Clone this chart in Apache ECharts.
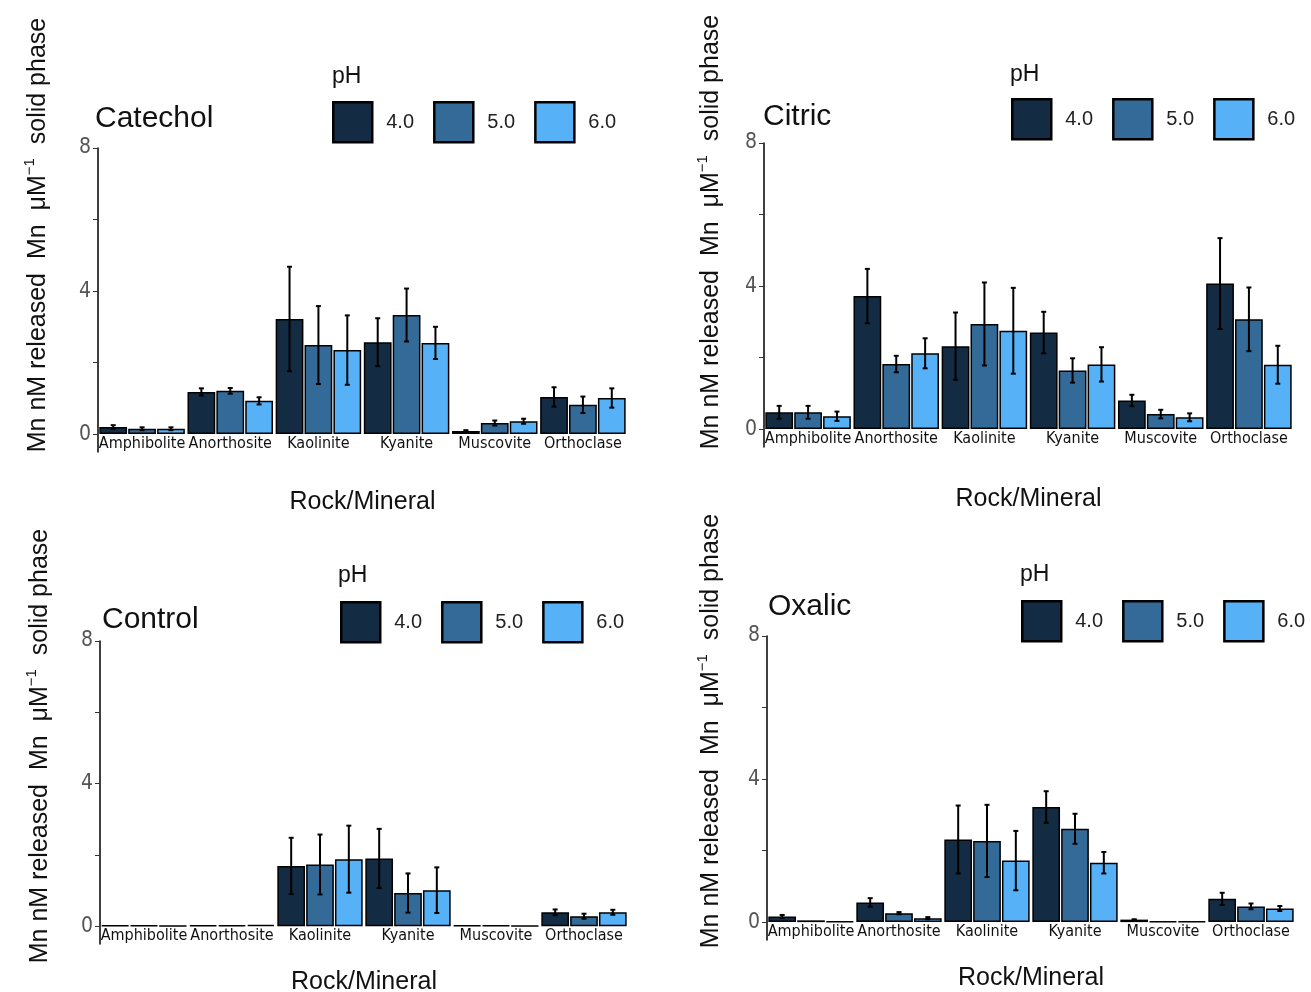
<!DOCTYPE html>
<html><head><meta charset="utf-8">
<script src="https://cdn.jsdelivr.net/npm/echarts@6/dist/echarts.min.js"></script>
<style>html,body{margin:0;padding:0;background:#fff}#c{width:1311px;height:992px}</style>
</head><body><div id="c"></div>
<script>
// ---------- data ----------
const categories = ['Amphibolite', 'Anorthosite', 'Kaolinite', 'Kyanite', 'Muscovite', 'Orthoclase'];
const phLevels = ['4.0', '5.0', '6.0'];
const yTickValues = [0, 2, 4, 6, 8];
const yLabelValues = [0, 4, 8];

const catechol4 = [0.20, 1.18, 3.22, 2.57, 0.09, 1.04];
const catechol5 = [0.15, 1.21, 2.49, 3.33, 0.31, 0.82];
const catechol6 = [0.15, 0.93, 2.35, 2.55, 0.36, 1.01];
const catechol4Err = [0.05, 0.10, 1.46, 0.67, 0.02, 0.27];
const catechol5Err = [0.04, 0.08, 1.09, 0.74, 0.07, 0.23];
const catechol6Err = [0.04, 0.10, 0.97, 0.45, 0.07, 0.27];

const citric4 = [0.47, 3.72, 2.32, 2.70, 0.80, 4.07];
const citric5 = [0.47, 1.82, 2.94, 1.64, 0.42, 3.07];
const citric6 = [0.36, 2.12, 2.75, 1.81, 0.33, 1.80];
const citric4Err = [0.18, 0.76, 0.94, 0.58, 0.16, 1.27];
const citric5Err = [0.18, 0.23, 1.16, 0.34, 0.12, 0.89];
const citric6Err = [0.13, 0.42, 1.20, 0.48, 0.11, 0.53];

const control4 = [0.02, 0.03, 1.69, 1.90, 0.02, 0.39];
const control5 = [0.02, 0.03, 1.73, 0.93, 0.02, 0.28];
const control6 = [0.01, 0.04, 1.88, 1.01, 0.01, 0.39];
const control4Err = [0, 0, 0.79, 0.83, 0, 0.08];
const control5Err = [0, 0, 0.84, 0.55, 0, 0.07];
const control6Err = [0, 0, 0.94, 0.64, 0, 0.07];

const oxalic4 = [0.16, 0.55, 2.31, 3.22, 0.07, 0.65];
const oxalic5 = [0.05, 0.25, 2.27, 2.61, 0.02, 0.44];
const oxalic6 = [0.02, 0.11, 1.72, 1.66, 0.02, 0.38];
const oxalic4Err = [0.04, 0.12, 0.95, 0.44, 0.01, 0.17];
const oxalic5Err = [0, 0.03, 1.01, 0.42, 0, 0.08];
const oxalic6Err = [0, 0.03, 0.83, 0.30, 0, 0.07];

// ---------- styling / layout ----------
const colors = ['#132B43', '#336A98', '#56B1F7'];
const FONT = "'Liberation Sans', Arial, sans-serif";
const NARROW = "'Liberation Sans Narrow', 'Arial Narrow', 'DejaVu Sans Condensed', sans-serif";
const CAT_GAP = 0.03, BAR_GAP = 0.04;

const panels = [
  { title: 'Catechol', vals: [catechol4, catechol5, catechol6], errs: [catechol4Err, catechol5Err, catechol6Err],
    g: [98, 148, 529, 304], t: [95, 104], ph: [332, 65], leg: [332, 101], yt: [38, 235], gap: 38 },
  { title: 'Citric', vals: [citric4, citric5, citric6], errs: [citric4Err, citric5Err, citric6Err],
    g: [764, 143, 529, 304], t: [763, 102], ph: [1010, 63], leg: [1011, 98], yt: [711, 232], gap: 40 },
  { title: 'Control', vals: [control4, control5, control6], errs: [control4Err, control5Err, control6Err],
    g: [100, 641, 528, 303], t: [102, 605], ph: [338, 564], leg: [340, 601], yt: [40, 746], gap: 26 },
  { title: 'Oxalic', vals: [oxalic4, oxalic5, oxalic6], errs: [oxalic4Err, oxalic5Err, oxalic6Err],
    g: [767, 636, 528, 304], t: [768, 592], ph: [1020, 563], leg: [1021, 600], yt: [711, 731], gap: 26 }
];

const option = { animation: false, backgroundColor: '#fff',
  title: [], legend: [], grid: [], xAxis: [], yAxis: [], series: [], graphic: [] };

panels.forEach((p, gi) => {
  option.grid.push({ left: p.g[0], top: p.g[1], width: p.g[2], height: p.g[3],
    containLabel: false, outerBoundsMode: 'none' });
  option.xAxis.push({
    type: 'category', gridIndex: gi, data: categories,
    axisLine: { show: false, onZero: false },
    axisTick: { show: false },
    axisLabel: { interval: 0, fontSize: 16, color: '#111', fontFamily: NARROW, margin: -16 },
    name: 'Rock/Mineral', nameLocation: 'middle', nameGap: p.gap,
    nameTextStyle: { fontSize: 25, color: '#111', fontFamily: FONT }
  });
  option.yAxis.push({
    type: 'value', gridIndex: gi, min: -0.5, max: 8,
    axisLine: { show: true, lineStyle: { color: '#000', width: 1.5 } },
    axisTick: { show: true, length: 5, customValues: yTickValues, lineStyle: { color: '#333', width: 1 } },
    axisLabel: { customValues: yLabelValues, fontSize: 21, color: '#555', fontFamily: NARROW, margin: 7 },
    splitLine: { show: false }
  });
  option.title.push({ text: p.title, left: p.t[0], top: p.t[1], padding: 0,
    textStyle: { fontSize: 30, fontWeight: 'normal', color: '#111', fontFamily: FONT } });
  option.title.push({ text: 'pH', left: p.ph[0], top: p.ph[1], padding: 0,
    textStyle: { fontSize: 23, fontWeight: 'normal', color: '#111', fontFamily: FONT } });
  option.legend.push({
    data: phLevels, left: p.leg[0], top: p.leg[1], padding: 0, orient: 'horizontal',
    itemWidth: 39, itemHeight: 40, itemGap: 19, icon: 'rect', selectedMode: false,
    itemStyle: { borderColor: '#000', borderWidth: 2.5 },
    textStyle: { fontSize: 20, color: '#222', fontFamily: FONT, padding: [0, 0, 0, 9] }
  });
  for (let s = 0; s < 3; s++) {
    option.series.push({
      type: 'bar', name: phLevels[s], xAxisIndex: gi, yAxisIndex: gi, data: p.vals[s],
      barGap: (BAR_GAP * 100) + '%', barCategoryGap: (CAT_GAP * 100) + '%',
      itemStyle: { color: colors[s], borderColor: '#000', borderWidth: 1.5 },
      emphasis: { disabled: true }
    });
  }
  const errData = [];
  for (let s = 0; s < 3; s++)
    for (let i = 0; i < categories.length; i++)
      if (p.errs[s][i] > 0) errData.push([i, p.vals[s][i], p.errs[s][i], s]);
  option.series.push({
    type: 'custom', xAxisIndex: gi, yAxisIndex: gi, z: 10, silent: true,
    encode: { x: 0, y: 1 }, data: errData,
    renderItem: function (params, api) {
      const ci = api.value(0), v = api.value(1), e = api.value(2), s = api.value(3);
      const band = api.size([1, 0])[0];
      const remained = band * (1 - CAT_GAP);
      const bw = remained / (3 + 2 * BAR_GAP);
      const total = 3 * bw + 2 * bw * BAR_GAP;
      const c = api.coord([ci, v]);
      const x = c[0] - total / 2 + s * bw * (1 + BAR_GAP) + bw / 2;
      const yTop = api.coord([ci, v + e])[1];
      const yBot = api.coord([ci, v - e])[1];
      const cap = 2.5, st = { stroke: '#000', lineWidth: 2 };
      return { type: 'group', children: [
        { type: 'line', shape: { x1: x, y1: yTop, x2: x, y2: yBot }, style: st },
        { type: 'line', shape: { x1: x - cap, y1: yTop, x2: x + cap, y2: yTop }, style: st },
        { type: 'line', shape: { x1: x - cap, y1: yBot, x2: x + cap, y2: yBot }, style: st }
      ] };
    }
  });
  option.graphic.push({
    type: 'text', x: p.yt[0], y: p.yt[1], rotation: Math.PI / 2,
    style: {
      text: '{a|Mn nM released  Mn  μM}{sup|−1}{a|  solid phase}',
      align: 'center', verticalAlign: 'middle',
      rich: {
        a: { fontSize: 25, fontFamily: FONT, fill: '#111' },
        sup: { fontSize: 15, fontFamily: FONT, fill: '#111', padding: [0, 0, 16, 0] }
      }
    }
  });
});

const chart = echarts.init(document.getElementById('c'), null, { renderer: 'canvas' });
chart.setOption(option);
</script></body></html>
